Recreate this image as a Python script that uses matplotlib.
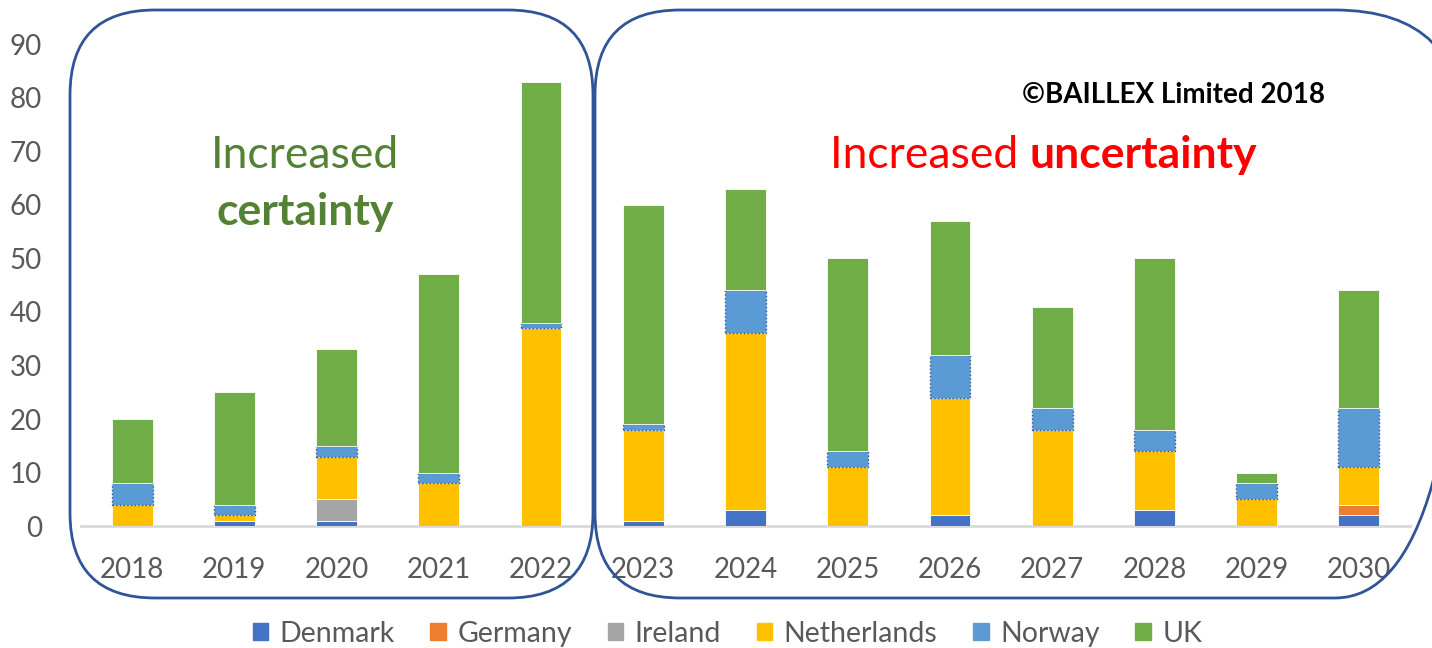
import numpy as np
import matplotlib.pyplot as plt
from matplotlib.patches import Patch, PathPatch
from matplotlib.path import Path

plt.rcParams['font.family'] = ['Lato', 'DejaVu Sans']

years = ['2018', '2019', '2020', '2021', '2022', '2023', '2024',
         '2025', '2026', '2027', '2028', '2029', '2030']
denmark = [0, 1, 1, 0, 0, 1, 3, 0, 2, 0, 3, 0, 2]
germany = [0, 0, 0, 0, 0, 0, 0, 0, 0, 0, 0, 0, 2]
ireland = [0, 0, 4, 0, 0, 0, 0, 0, 0, 0, 0, 0, 0]
netherlands = [4, 1, 8, 8, 37, 17, 33, 11, 22, 18, 11, 5, 7]
norway = [4, 2, 2, 2, 1, 1, 8, 3, 8, 4, 4, 3, 11]
uk = [12, 21, 18, 37, 45, 41, 19, 36, 25, 19, 32, 2, 22]

series = [('Denmark', denmark, '#4472C4'),
          ('Germany', germany, '#ED7D31'),
          ('Ireland', ireland, '#A5A5A5'),
          ('Netherlands', netherlands, '#FFC000'),
          ('Norway', norway, '#5B9BD5'),
          ('UK', uk, '#70AD47')]


def rounded_box(x0, y0, x1, y1, rl, rr):
    # quadratic corners, rl for the left corners, rr for the right ones
    verts = [(x0 + rl, y0), (x1 - rr, y0), (x1, y0), (x1, y0 + rr),
             (x1, y1 - rr), (x1, y1), (x1 - rr, y1), (x0 + rl, y1),
             (x0, y1), (x0, y1 - rl), (x0, y0 + rl), (x0, y0),
             (x0 + rl, y0), (x0 + rl, y0)]
    codes = [Path.MOVETO, Path.LINETO, Path.CURVE3, Path.CURVE3,
             Path.LINETO, Path.CURVE3, Path.CURVE3, Path.LINETO,
             Path.CURVE3, Path.CURVE3, Path.LINETO, Path.CURVE3,
             Path.CURVE3, Path.CLOSEPOLY]
    return PathPatch(Path(verts, codes), fill=False, edgecolor='#2F5597',
                     linewidth=2)


fig = plt.figure(figsize=(14.32, 6.48), dpi=100)
ax = fig.add_axes([0.0566, 0.188, 0.928, 0.744])

x = np.arange(len(years))
bottom = np.zeros(len(years))
for name, vals, col in series:
    vals = np.array(vals, dtype=float)
    if name == 'Norway':
        ax.bar(x, vals, 0.4, bottom=bottom, color=col, edgecolor='#2F5597',
               linestyle=':', linewidth=1, label=name, zorder=3)
    else:
        ax.bar(x, vals, 0.4, bottom=bottom, color=col, edgecolor='white',
               linewidth=0.6, label=name, zorder=3)
    bottom += vals

ax.set_xlim(-0.5, 12.5)
ax.set_ylim(0, 90)
ax.set_yticks(range(0, 91, 10))
ax.set_xticks(x)
ax.set_xticklabels(years)
ax.tick_params(axis='both', length=0, labelsize=20, labelcolor='#595959')
ax.tick_params(axis='x', pad=22)
ax.tick_params(axis='y', pad=28)
for s in ['top', 'right', 'left']:
    ax.spines[s].set_visible(False)
ax.spines['bottom'].set_color('#D9D9D9')
ax.spines['bottom'].set_linewidth(2)

# overlay in pixel coordinates for the rounded boxes and notes
ov = fig.add_axes([0, 0, 1, 1], facecolor='none')
ov.set_xlim(0, 1432)
ov.set_ylim(648, 0)
ov.axis('off')
ov.add_patch(rounded_box(70, 10, 593, 598, 85, 85))
# right box runs off the right edge of the picture
ov.add_patch(rounded_box(595, 10, 1465, 598, 85, 130))

ov.text(305, 155, 'Increased', color='#548235', fontsize=32,
        ha='center', va='center')
ov.text(305, 212, 'certainty', color='#548235', fontsize=32,
        fontweight='bold', ha='center', va='center')
ov.text(1030, 155, 'Increased ', color='red', fontsize=32,
        ha='right', va='center')
ov.text(1030, 155, 'uncertainty', color='red', fontsize=32,
        fontweight='bold', ha='left', va='center')
ov.text(1173, 95, '©BAILLEX Limited 2018', color='black', fontsize=20,
        fontweight='bold', ha='center', va='center')

handles = [Patch(color=c, label=n) for n, v, c in series]
leg = fig.legend(handles=handles, loc='center', bbox_to_anchor=(0.508, 0.022),
                 ncol=6, frameon=False, fontsize=20.5, handlelength=0.55,
                 handleheight=0.55, handletextpad=0.4, columnspacing=1.25)
for t in leg.get_texts():
    t.set_color('#595959')

fig.savefig('out.png', dpi=100)
